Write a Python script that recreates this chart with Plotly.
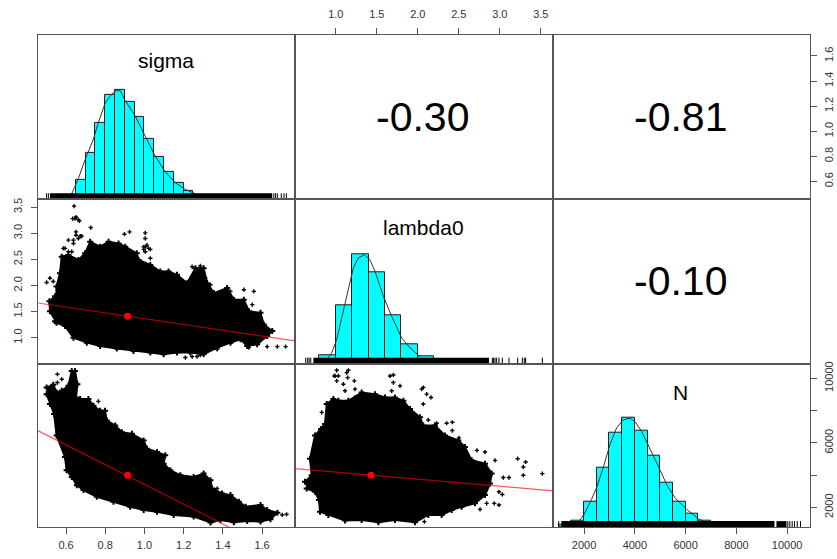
import plotly.graph_objects as go

# ---------- axis ranges and tick labels ----------
sigma_range = [0.457, 1.768]
lambda_range = [0.502, 3.649]
n_range = [775, 10900]
sigma_ticks = [0.6, 0.8, 1.0, 1.2, 1.4, 1.6]
sigma_labels = ["0.6", "0.8", "1.0", "1.2", "1.4", "1.6"]
lambda_ticks = [1.0, 1.5, 2.0, 2.5, 3.0, 3.5]
lambda_labels = ["1.0", "1.5", "2.0", "2.5", "3.0", "3.5"]
n_ticks = [2000, 4000, 6000, 8000, 10000]
n_labels_bottom = ["2000", "4000", "6000", "8000", "10000"]
n_labels_right = ["2000", "", "6000", "", "10000"]

# ---------- histograms ----------
sigma_edges = [0.65, 0.70, 0.75, 0.80, 0.85, 0.90, 0.95, 1.00, 1.05, 1.10, 1.15, 1.20, 1.25]
sigma_heights = [0.18, 0.42, 0.70, 0.955, 1.0, 0.89, 0.75, 0.55, 0.39, 0.25, 0.15, 0.08]
sigma_curve_x = [0.629, 0.663, 0.697, 0.74, 0.765, 0.80, 0.825, 0.851, 0.876, 0.902, 0.953, 1.004, 1.05, 1.106, 1.158, 1.209, 1.26]
sigma_curve_y = [.05, .19, .36, .55, .70, .88, .94, .99, .99, .90, .76, .58, .41, .25, .15, .09, .05]
sigma_rug_solid = [0.518, 1.652]
sigma_rug_ticks = [0.501, 0.51, 1.66, 1.669, 1.678, 1.698, 1.712, 1.724]

lambda_edges = [0.8, 1.0, 1.2, 1.4, 1.6, 1.8, 2.0, 2.2]
lambda_heights = [0.076, 0.53, 1.0, 0.833, 0.44, 0.18, 0.064]
lambda_curve_x = [.897, .95, 1.011, 1.092, 1.153, 1.214, 1.275, 1.348, 1.417, 1.478, 1.58, 1.681, 1.803, 1.905, 2.027]
lambda_curve_y = [.048, .10, .22, .497, .68, .873, .964, .994, .948, .842, .615, .433, .236, .145, .064]
lambda_rug_solid = [0.726, 2.868]
lambda_rug_ticks = [.633, .657, .674, .694, 2.909, 2.925, 2.942, 2.962, 2.99, 3.031, 3.112, 3.218, 3.275, 3.299, 3.315, 3.519]

n_edges = [1000, 1500, 2000, 2500, 3000, 3500, 4000, 4500, 5000, 5500, 6000, 6500, 7000]
n_heights = [.02, .058, .23, .55, .87, 1.0, .887, .655, .405, .235, .122, .058]
n_curve_x = [1802, 2000, 2290, 2488, 2751, 3015, 3278, 3542, 3806, 4003, 4267, 4530, 4926, 5255, 5585, 6047, 6508, 6837]
n_curve_y = [.055, .116, .253, .36, .543, .756, .909, .985, 1.0, .97, .878, .756, .558, .39, .268, .162, .076, .04]
n_rug_solid = [1104, 9499]
n_rug_solid2 = [9578, 9974]
n_rug_ticks = [1000, 10027, 10106, 10198, 10290, 10396, 10527]

# ---------- scatter clouds: outline of the dense mass, and the stray points ----------
sl_sigma = [.544, .552, .569, .578, .612, .663, .697, .723, .774, .817, .868, .902, .961, .970, 1.030, 1.081, 1.123, 1.166, 1.217, 1.260, 1.302, 1.320, 1.354, 1.422, 1.456, 1.507, 1.533, 1.592, 1.609, 1.652, 1.626, 1.575, 1.524, 1.490, 1.439, 1.371, 1.302, 1.234, 1.166, 1.098, 1.030, .944, .859, .774, .706, .638, .595, .552, .518, .515, .544]
sl_lambda = [1.316, 1.981, 2.234, 2.551, 2.582, 2.487, 2.614, 2.835, 2.741, 2.835, 2.804, 2.741, 2.614, 2.487, 2.392, 2.266, 2.266, 2.203, 2.044, 2.329, 2.329, 2.044, 1.854, 1.949, 1.728, 1.728, 1.506, 1.475, 1.253, 1.127, 1.032, .873, .842, .968, .905, .810, .684, .715, .715, .684, .715, .747, .791, .842, .905, 1.0, 1.222, 1.285, 1.506, 1.696, 1.791]
sl_out_sigma = [.641, .646, .663, .651, .672, .726, .898, .924, 1.004, 1.004, 1.004, 1.021, .996, .638, .595, .612, .501, .518, .535, 1.030, 1.243, 1.285, 1.678, 1.720, 1.626, 1.209, 1.243, 1.285, 1.558, 1.507, 1.371,
                .634, .651, .668, .651, .680, .663, .996, 1.013, 1.030, 1.004, .612, .638, .586, .586, .629, 1.277, 1.294, 1.311, 1.337, 1.388, 1.439, 1.550, 1.533, 1.268]
sl_out_lambda = [3.519, 3.278, 3.259, 3.025, 2.943, 3.108, 2.981, 3.025, 3.006, 2.899, 2.741, 2.709, 2.690, 2.804, 2.709, 2.646, 2.057, 2.139, 2.076, 2.519, 2.361, 2.373, .829, .829, .829, .620, .639, .665, 1.886, 1.918, .778,
                 3.278, 3.310, 3.234, 2.962, 2.943, 2.899, 2.741, 2.772, 2.690, 2.646, 2.867, 2.867, 2.709, 2.519, 2.646, 2.171, 2.234, 2.139, 2.013, 1.854, 1.886, 1.633, .810, .639]

sn_sigma = [.501, .535, .552, .578, .612, .629, .646, .658, .651, .672, .714, .740, .774, .799, .808, .851, .885, .936, .996, 1.013, 1.064, 1.106, 1.098, 1.132, 1.183, 1.251, 1.302, 1.337, 1.345, 1.396, 1.439, 1.482, 1.516, 1.592, 1.626, 1.678, 1.643, 1.592, 1.524, 1.456, 1.388, 1.337, 1.251, 1.149, 1.064, .996, .927, .842, .757, .689, .655, .629, .603, .595, .552, .539, .518, .501]
sn_n = [9425, 9589, 9117, 9220, 9527, 10450, 10450, 9630, 8809, 8707, 8707, 8297, 7989, 7989, 7374, 7066, 6656, 6553, 6143, 5630, 5425, 5220, 4707, 4297, 3989, 3887, 4092, 3682, 3169, 2861, 2759, 2349, 2041, 2144, 1836, 1672, 1262, 1118, 1159, 1077, 1221, 1057, 1426, 1528, 1733, 1836, 2041, 2349, 2656, 3067, 3374, 3887, 4297, 5118, 6451, 7784, 8399, 9014]
sn_out_sigma = [.556, .556, .578, .765, 1.371, 1.725, 1.703]
sn_out_n = [10245, 9732, 9937, 8563, 3169, 1569, 1528]

ln_lambda = [.624, .706, .685, .746, .820, .868, .889, .970, 1.031, 1.153, 1.315, 1.478, 1.600, 1.721, 1.824, 1.905, 2.027, 2.067, 2.210, 2.332, 2.494, 2.575, 2.657, 2.820, 2.901, 2.881, 2.820, 2.698, 2.535, 2.413, 2.291, 2.128, 1.966, 1.721, 1.519, 1.315, 1.112, .909, .807, .795, .746, .645]
ln_n = [3579, 3989, 5015, 6451, 6861, 7169, 8399, 8707, 8604, 8604, 9117, 9014, 8809, 8809, 8604, 8092, 7579, 7066, 7066, 6451, 6143, 5733, 4912, 4707, 4092, 3477, 2759, 2246, 2041, 1836, 1528, 1528, 1077, 1221, 1077, 1221, 1180, 1528, 1733, 2451, 2964, 3169]
ln_out_lambda = [1.011, .982, 1.011, 1.153, 1.145, 1.226, 1.092, 1.702, 1.702, 1.783, 2.067, 2.108, 2.161, 2.067, 2.128, 2.230, 2.352, 2.421, 2.421, 2.502, 2.721, 2.820, 2.942, 3.218, 3.315, 3.287, 3.287, 3.519, 3.043, 3.112, 2.990, 3.031, 2.933, 2.990, 2.840, 2.759, 2.080, .909, .828,
                 1.031, 1.133, .990, 1.112, 1.234, 1.234, 1.661, 1.681, 2.047]
ln_out_n = [10491, 10142, 9835, 10491, 10040, 9835, 9630, 10204, 9732, 9527, 9425, 9014, 8809, 8399, 7415, 7210, 7210, 7271, 6758, 6307, 5528, 5425, 4912, 5015, 4810, 4502, 3989, 4092, 3846, 3846, 2964, 2800, 2246, 2144, 2246, 1877, 1118, 8194, 7886,
            10142, 10348, 10142, 9220, 9322, 8809, 10142, 9220, 9322]

# ---------- regression lines, means, correlations ----------
fit_sl_x = [0.455, 1.771]
fit_sl_y = [1.665, 0.937]
fit_sn_x = [0.455, 1.442]
fit_sn_y = [6758, 708]
fit_ln_x = [0.502, 3.649]
fit_ln_y = [4400, 3026]
mean_sigma = 0.914
mean_lambda_y = 1.411
mean_lambda_x = 1.429
mean_n = 3989
correlations = ["-0.30", "-0.81", "-0.10"]
names = ["sigma", "lambda0", "N"]

# ---------- layout ----------
W, H = 837, 559
XP = [38, 295, 553, 810]
YP = [33, 198, 363, 527]
FONT = "Liberation Sans, Arial, sans-serif"
BORDER = "#555555"
TICKFONT = dict(family=FONT, size=11, color="#333333")
HIST_TOP = 1.5
RUG_H = 0.055

fig = go.Figure()
layout = dict(width=W, height=H, margin=dict(l=0, r=0, t=0, b=0), showlegend=False,
              plot_bgcolor="white", paper_bgcolor="white", autosize=False, font=dict(family=FONT))


def axis_id(row, col):
    return (row - 1) * 3 + col


def base_axis(dom, rng):
    return dict(domain=dom, range=rng, showgrid=False, zeroline=False, showline=True,
                linecolor=BORDER, linewidth=1, mirror=True, ticks="", showticklabels=False,
                fixedrange=True)


col_ranges = [sigma_range, lambda_range, n_range]
for r in range(1, 4):
    for c in range(1, 4):
        i = axis_id(r, c)
        xa = base_axis([XP[c - 1] / W, XP[c] / W], col_ranges[c - 1])
        ya = base_axis([1 - YP[r] / H, 1 - YP[r - 1] / H],
                       [0, HIST_TOP] if r == c else col_ranges[r - 1])
        xa["anchor"] = f"y{i}"
        ya["anchor"] = f"x{i}"
        layout[f"xaxis{i}"] = xa
        layout[f"yaxis{i}"] = ya
        if r != c:
            fig.add_trace(go.Scatter(x=[None], y=[None], xaxis=f"x{i}", yaxis=f"y{i}",
                                     mode="markers", hoverinfo="skip"))


def ticks(ax, vals, labels, side, angle=0, standoff=0):
    ax.update(ticks="outside", ticklen=6, tickwidth=1, tickcolor=BORDER, tickmode="array",
              tickvals=vals, ticktext=labels, showticklabels=True, side=side,
              tickfont=TICKFONT, tickangle=angle, ticklabelstandoff=standoff)


ticks(layout["xaxis7"], sigma_ticks, sigma_labels, "bottom", standoff=2)
ticks(layout["xaxis9"], n_ticks, n_labels_bottom, "bottom", standoff=2)
ticks(layout["xaxis2"], lambda_ticks, lambda_labels, "top", standoff=5)
ticks(layout["yaxis4"], lambda_ticks, lambda_labels, "left", -90, standoff=5)
ticks(layout["yaxis3"], sigma_ticks, sigma_labels, "right", -90, standoff=3)

# overlay y axis for the right-hand N ticks of the bottom-right panel
y10 = base_axis(layout["yaxis9"]["domain"], n_range)
y10.update(overlaying="y9", anchor="x9", showline=False, mirror=False)
ticks(y10, n_ticks, n_labels_right, "right", -90, standoff=3)
layout["yaxis10"] = y10
fig.add_trace(go.Scatter(x=[None], y=[None], xaxis="x9", yaxis="y10", mode="markers", hoverinfo="skip"))


def add_hist(i, edges, heights, cx, cy, solids, rug_ticks):
    mids = [(a + b) / 2 for a, b in zip(edges[:-1], edges[1:])]
    widths = [b - a for a, b in zip(edges[:-1], edges[1:])]
    x, y = f"x{i}", f"y{i}"
    fig.add_trace(go.Bar(x=mids, y=heights, width=widths, xaxis=x, yaxis=y,
                         marker=dict(color="#00FFFF", line=dict(color="#1a1a1a", width=1))))
    fig.add_trace(go.Scatter(x=cx, y=cy, xaxis=x, yaxis=y, mode="lines",
                             line=dict(color="#333333", width=1)))
    for s in solids:
        fig.add_trace(go.Scatter(x=s, y=[RUG_H / 2, RUG_H / 2], xaxis=x, yaxis=y, mode="lines",
                                 line=dict(color="black", width=6)))
    rx, ry = [], []
    for t in rug_ticks:
        rx += [t, t, None]
        ry += [0, RUG_H, None]
    fig.add_trace(go.Scatter(x=rx, y=ry, xaxis=x, yaxis=y, mode="lines",
                             line=dict(color="black", width=1)))


add_hist(1, sigma_edges, sigma_heights, sigma_curve_x, sigma_curve_y, [sigma_rug_solid], sigma_rug_ticks)
add_hist(5, lambda_edges, lambda_heights, lambda_curve_x, lambda_curve_y, [lambda_rug_solid], lambda_rug_ticks)
add_hist(9, n_edges, n_heights, n_curve_x, n_curve_y, [n_rug_solid, n_rug_solid2], n_rug_ticks)


def add_cloud(i, ox, oy, sx, sy, fx, fy, mx, my):
    x, y = f"x{i}", f"y{i}"
    fig.add_trace(go.Scatter(x=ox, y=oy, xaxis=x, yaxis=y, mode="lines+markers", fill="toself",
                             fillcolor="black", line=dict(color="black", width=2),
                             marker=dict(symbol="cross", size=5, color="black")))
    fig.add_trace(go.Scatter(x=sx, y=sy, xaxis=x, yaxis=y, mode="markers",
                             marker=dict(symbol="cross", size=3.5, color="black")))
    fig.add_trace(go.Scatter(x=fx, y=fy, xaxis=x, yaxis=y, mode="lines",
                             line=dict(color="rgba(255,0,0,0.65)", width=1.2)))
    fig.add_trace(go.Scatter(x=[mx], y=[my], xaxis=x, yaxis=y, mode="markers",
                             marker=dict(symbol="circle", size=7, color="#FF0000")))


add_cloud(4, sl_sigma, sl_lambda, sl_out_sigma, sl_out_lambda, fit_sl_x, fit_sl_y, mean_sigma, mean_lambda_y)
add_cloud(7, sn_sigma, sn_n, sn_out_sigma, sn_out_n, fit_sn_x, fit_sn_y, mean_sigma, mean_n)
add_cloud(8, ln_lambda, ln_n, ln_out_lambda, ln_out_n, fit_ln_x, fit_ln_y, mean_lambda_x, mean_n)

ann = []
for (c, r), txt in zip([(2, 1), (3, 1), (3, 2)], correlations):
    ann.append(dict(text=txt, xref="paper", yref="paper", showarrow=False,
                    x=((XP[c - 1] + XP[c]) / 2 - 1.5) / W, y=1 - (YP[r - 1] + YP[r]) / 2 / H,
                    xanchor="center", yanchor="middle", font=dict(family=FONT, size=41, color="black")))
for k, txt in enumerate(names):
    ann.append(dict(text=txt, xref="paper", yref="paper", showarrow=False,
                    x=((XP[k] + XP[k + 1]) / 2 - 1) / W, y=1 - (YP[k] + [26, 28, 29][k]) / H,
                    xanchor="center", yanchor="middle", font=dict(family=FONT, size=21, color="black")))
layout["annotations"] = ann
layout["bargap"] = 0
fig.update_layout(**layout)
fig.write_html("out.html", post_script="document.body.style.margin='0';",
               config={"displayModeBar": False})
